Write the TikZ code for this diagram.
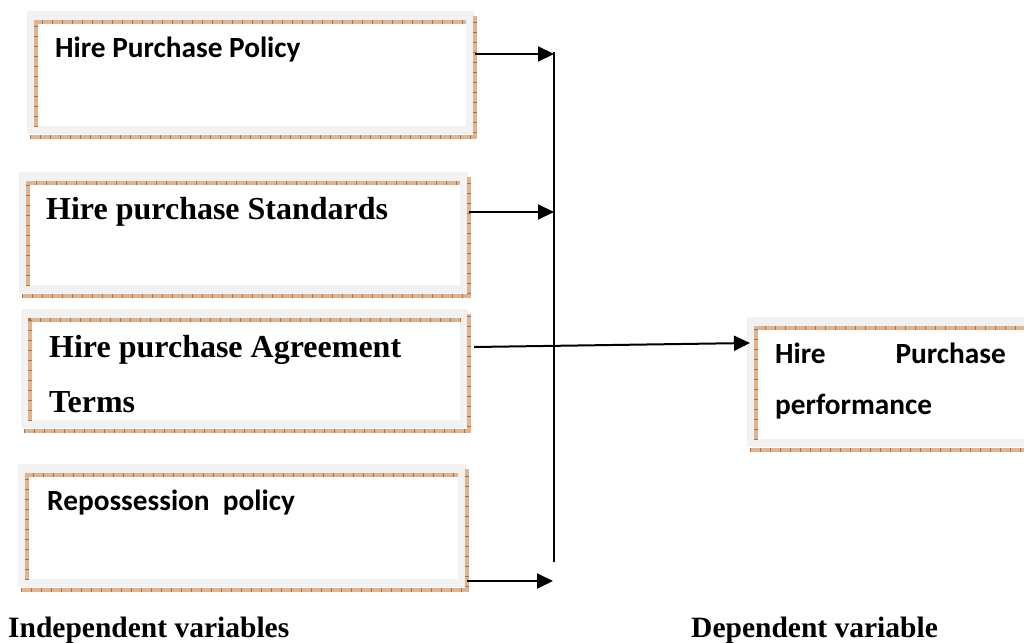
\documentclass[tikz,border=0pt]{standalone}
\usepackage{fontspec}
\setmainfont{Liberation Serif}
\newfontfamily\calibfont{Carlito}
\usetikzlibrary{arrows.meta,calc}
\definecolor{greyc}{HTML}{F2F2F2}
\definecolor{brownlt}{HTML}{DFB493}
\definecolor{browndk}{HTML}{B86E34}
\tikzset{
  boxgrey/.style={rectangle, fill=greyc, draw=none, inner sep=0pt, anchor=north west},
  brownline/.style={line width=4pt, draw=brownlt, line cap=butt,
     postaction={draw=browndk, line width=4pt, dash pattern=on 0.7pt off 9.3pt}},
  cal/.style={anchor=base west, inner sep=0pt, font=\calibfont\bfseries\fontsize{29.3}{35}\selectfont},
  tms/.style={anchor=base west, inner sep=0pt, font=\bfseries\fontsize{32}{38}\selectfont},
  lbl/.style={anchor=base west, inner sep=0pt, font=\bfseries\fontsize{29.5}{35}\selectfont},
  arr/.style={line width=2pt, -{Triangle[length=16pt,width=15pt]}},
  vline/.style={line width=2.2pt}
}
\newcommand{\hpbox}[5]{%
  \node[boxgrey, minimum width={#4pt-#2pt}, minimum height={#5pt-#3pt}] (#1) at (#2,#3) {};
  \fill[white] ($(#1.north west)+(9,11)$) rectangle ($(#1.south east)+(-8,-8)$);
  \draw[brownline] ($(#1.south west)+(9,-8)$) -- ($(#1.north west)+(9,11)$) -- ($(#1.north east)+(-8,11)$);
  \draw[brownline] ($(#1.south west)+(3,3)$) -- ($(#1.south east)+(1,3)$) -- ($(#1.north east)+(1,5)$);
}
\begin{document}
\begin{tikzpicture}[x=1pt,y=-1pt]
\useasboundingbox (0,0) rectangle (1024,642);
\clip (0,0) rectangle (1024,642);

\hpbox{b1}{27}{11}{474}{134}
\hpbox{b2}{19}{172}{468}{293}
\hpbox{b3}{21}{309}{468}{428}
\hpbox{b4}{18}{464}{466}{587}
\hpbox{rb}{747}{317}{1036}{447}

\node[cal] (t1) at (55,57) {Hire Purchase Policy};
\node[tms] (t2) at (46,219) {Hire purchase Standards};
\node[tms] (t3a) at (49,357) {Hire purchase Agreement};
\node[tms] (t3b) at (49,412) {Terms};
\node[cal] (t4) at (47,510) {Repossession\ \ policy};
\node[cal] (t5a) at (775,363) {Hire};
\node[cal, anchor=base east] (t5b) at (1006,363) {Purchase};
\node[cal] (t5c) at (775,414) {performance};

\node[lbl] (l1) at (8,637) {Independent variables};
\node[lbl] (l2) at (691,637) {Dependent variable};

\coordinate (vtop) at (554,52);
\coordinate (vbot) at (554,562);
\coordinate (j1) at (554,54);
\coordinate (j2) at (554,212);
\coordinate (j4) at (553,581);
\coordinate (s3) at (474,347);
\coordinate (e3) at (750,343);

\draw[vline] (vtop) -- (vbot);
\draw[arr] ($(b1.east |- j1)+(1,0)$) -- (j1);
\draw[arr] ($(b2.east |- j2)+(1,0)$) -- (j2);
\draw[arr] ($(b4.east |- j4)+(1,0)$) -- (j4);
\draw[arr] (s3) -- (e3);
\end{tikzpicture}
\end{document}
